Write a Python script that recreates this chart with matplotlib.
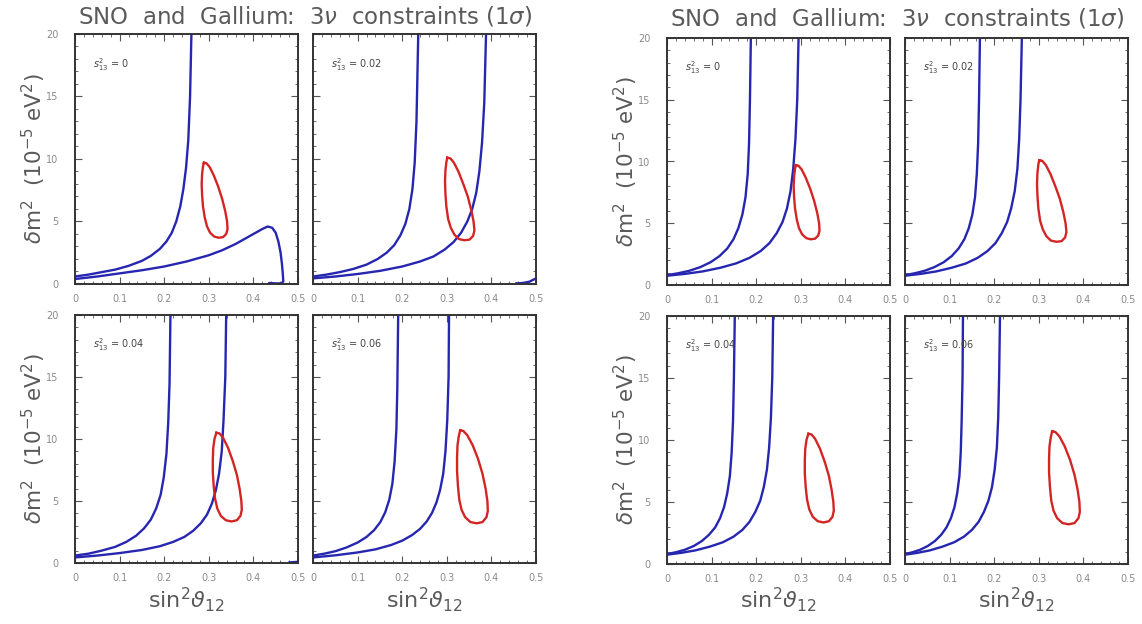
import matplotlib
matplotlib.use("Agg")
import matplotlib.pyplot as plt
from matplotlib.ticker import MultipleLocator, NullFormatter

# ---------------- data ----------------
s13_values = ["0", "0.02", "0.04", "0.06"]
x_ticks = [0, 0.1, 0.2, 0.3, 0.4, 0.5]
x_tick_labels = ["0", "0.1", "0.2", "0.3", "0.4", "0.5"]
y_ticks = [0, 5, 10, 15, 20]
y_tick_labels = ["0", "5", "10", "15", "20"]

# Left group (first figure)
L0_a_x = [0, 0.03, 0.06, 0.09, 0.12, 0.15, 0.17, 0.19, 0.205, 0.217, 0.227, 0.236, 0.243, 0.249, 0.254, 0.258, 0.261]
L0_a_y = [0.6, 0.75, 0.95, 1.15, 1.45, 1.85, 2.25, 2.8, 3.4, 4.1, 5.0, 6.2, 7.6, 9.3, 11.5, 15, 20]
L0_b_x = [0, 0.05, 0.1, 0.15, 0.2, 0.25, 0.3, 0.33, 0.36, 0.385, 0.405, 0.42, 0.432, 0.442, 0.45,
          0.456, 0.461, 0.464, 0.466, 0.467, 0.463, 0.45, 0.435]
L0_b_y = [0.4, 0.6, 0.85, 1.1, 1.4, 1.8, 2.3, 2.7, 3.2, 3.7, 4.1, 4.4, 4.6, 4.5, 4.1,
          3.4, 2.5, 1.6, 0.8, 0.2, 0.05, 0.05, 0.08]

L2_a_x = [0, 0.03, 0.06, 0.09, 0.12, 0.145, 0.165, 0.182, 0.196, 0.207, 0.216, 0.223, 0.228, 0.232, 0.236]
L2_a_y = [0.6, 0.75, 0.95, 1.2, 1.55, 2.0, 2.5, 3.1, 3.9, 4.8, 6.0, 7.6, 9.7, 13, 20]
L2_b_x = [0, 0.05, 0.1, 0.15, 0.2, 0.24, 0.27, 0.295, 0.315, 0.332, 0.346, 0.357, 0.366, 0.373,
          0.379, 0.384, 0.388]
L2_b_y = [0.45, 0.6, 0.8, 1.05, 1.4, 1.8, 2.2, 2.75, 3.35, 4.1, 5.0, 6.0, 7.3, 9.0, 11.3, 14.5, 20]
L2_c_x = [0.455, 0.47, 0.485, 0.5]
L2_c_y = [0.05, 0.08, 0.18, 0.45]

L4_a_x = [0, 0.03, 0.06, 0.09, 0.115, 0.137, 0.155, 0.17, 0.182, 0.192, 0.199, 0.205, 0.209, 0.212, 0.214]
L4_a_y = [0.6, 0.75, 1.0, 1.3, 1.7, 2.2, 2.8, 3.5, 4.4, 5.5, 6.9, 8.8, 11.3, 14.5, 20]
L4_b_x = [0, 0.05, 0.1, 0.15, 0.19, 0.22, 0.245, 0.265, 0.282, 0.296, 0.307, 0.316, 0.323, 0.329,
          0.333, 0.337, 0.339]
L4_b_y = [0.45, 0.6, 0.8, 1.05, 1.35, 1.7, 2.1, 2.6, 3.2, 3.9, 4.8, 5.9, 7.2, 9.0, 11.5, 15, 20]
L4_c_x = [0.48, 0.49, 0.5]
L4_c_y = [0.05, 0.07, 0.1]

L6_a_x = [0, 0.025, 0.05, 0.075, 0.1, 0.12, 0.137, 0.151, 0.162, 0.171, 0.178, 0.183, 0.187, 0.189, 0.191]
L6_a_y = [0.6, 0.75, 0.95, 1.25, 1.65, 2.1, 2.65, 3.3, 4.1, 5.1, 6.4, 8.2, 10.8, 14, 20]
L6_b_x = [0, 0.05, 0.1, 0.14, 0.175, 0.2, 0.222, 0.24, 0.255, 0.267, 0.277, 0.285, 0.292, 0.297,
          0.301, 0.304, 0.305]
L6_b_y = [0.45, 0.62, 0.85, 1.1, 1.45, 1.8, 2.25, 2.75, 3.35, 4.05, 4.9, 5.9, 7.2, 9.0, 11.5, 15, 20]

# Right group (second figure)
R_a_y = [0.8, 0.95, 1.15, 1.45, 1.85, 2.35, 2.95, 3.7, 4.6, 5.7, 7.1, 9.0, 11.5, 15, 20]
R_b_y = [0.75, 0.9, 1.1, 1.4, 1.75, 2.2, 2.75, 3.4, 4.2, 5.1, 6.2, 7.6, 9.4, 11.8, 15, 20]
R0_a_x = [0, 0.025, 0.05, 0.075, 0.098, 0.118, 0.135, 0.149, 0.16, 0.169, 0.176, 0.181, 0.184, 0.186, 0.188]
R0_b_x = [0, 0.04, 0.08, 0.12, 0.155, 0.185, 0.21, 0.23, 0.246, 0.259, 0.269, 0.277, 0.283, 0.288, 0.292, 0.295]
R2_a_x = [0, 0.022, 0.044, 0.066, 0.087, 0.105, 0.12, 0.133, 0.143, 0.151, 0.157, 0.161, 0.164, 0.166, 0.168]
R2_b_x = [0, 0.035, 0.07, 0.105, 0.137, 0.163, 0.185, 0.203, 0.217, 0.229, 0.238, 0.246, 0.252, 0.256, 0.259, 0.262]
R4_a_x = [0, 0.02, 0.04, 0.06, 0.078, 0.094, 0.108, 0.119, 0.128, 0.135, 0.141, 0.145, 0.148, 0.15, 0.152]
R4_b_x = [0, 0.032, 0.064, 0.096, 0.125, 0.149, 0.169, 0.185, 0.198, 0.209, 0.217, 0.224, 0.229, 0.233, 0.236, 0.238]
R6_a_x = [0, 0.017, 0.034, 0.051, 0.067, 0.081, 0.093, 0.103, 0.111, 0.117, 0.122, 0.125, 0.127, 0.129, 0.13]
R6_b_x = [0, 0.028, 0.056, 0.084, 0.11, 0.132, 0.15, 0.165, 0.177, 0.187, 0.195, 0.201, 0.206, 0.209, 0.211, 0.213]

# Red allowed regions (same in both groups)
red0_x = [0.289, 0.295, 0.302, 0.311, 0.321, 0.330, 0.337, 0.341, 0.342, 0.339, 0.332, 0.322, 0.312,
          0.303, 0.296, 0.291, 0.287, 0.285, 0.284, 0.285, 0.287, 0.289]
red0_y = [9.7, 9.65, 9.35, 8.7, 7.8, 6.8, 5.8, 5.0, 4.4, 4.0, 3.75, 3.7, 3.8,
          4.1, 4.6, 5.3, 6.2, 7.1, 8.0, 8.8, 9.4, 9.7]
red2_x = [0.301, 0.308, 0.316, 0.326, 0.337, 0.347, 0.355, 0.36, 0.362, 0.359, 0.351, 0.339, 0.327,
          0.317, 0.309, 0.303, 0.299, 0.297, 0.296, 0.297, 0.299, 0.301]
red2_y = [10.1, 10.05, 9.7, 9.0, 8.0, 7.0, 5.9, 5.0, 4.3, 3.85, 3.55, 3.5, 3.6,
          3.95, 4.5, 5.2, 6.2, 7.2, 8.2, 9.1, 9.75, 10.1]
red4_x = [0.317, 0.324, 0.332, 0.343, 0.354, 0.363, 0.369, 0.373, 0.374, 0.371, 0.363, 0.351, 0.338,
          0.327, 0.319, 0.314, 0.311, 0.309, 0.309, 0.31, 0.313, 0.317]
red4_y = [10.5, 10.45, 10.1, 9.3, 8.2, 7.1, 6.0, 5.0, 4.3, 3.8, 3.45, 3.35, 3.45,
          3.8, 4.4, 5.2, 6.2, 7.3, 8.4, 9.3, 10.05, 10.5]
red6_x = [0.33, 0.337, 0.346, 0.358, 0.37, 0.38, 0.387, 0.391, 0.392, 0.389, 0.38, 0.367, 0.353,
          0.341, 0.333, 0.328, 0.325, 0.323, 0.323, 0.324, 0.327, 0.33]
red6_y = [10.7, 10.65, 10.3, 9.5, 8.4, 7.2, 6.0, 5.0, 4.2, 3.7, 3.3, 3.2, 3.3,
          3.7, 4.3, 5.1, 6.2, 7.4, 8.5, 9.5, 10.25, 10.7]

left_blue = [
    [(L0_a_x, L0_a_y), (L0_b_x, L0_b_y)],
    [(L2_a_x, L2_a_y), (L2_b_x, L2_b_y), (L2_c_x, L2_c_y)],
    [(L4_a_x, L4_a_y), (L4_b_x, L4_b_y), (L4_c_x, L4_c_y)],
    [(L6_a_x, L6_a_y), (L6_b_x, L6_b_y)],
]
right_blue = [
    [(R0_a_x, R_a_y), (R0_b_x, R_b_y)],
    [(R2_a_x, R_a_y), (R2_b_x, R_b_y)],
    [(R4_a_x, R_a_y), (R4_b_x, R_b_y)],
    [(R6_a_x, R_a_y), (R6_b_x, R_b_y)],
]
reds = [(red0_x, red0_y), (red2_x, red2_y), (red4_x, red4_y), (red6_x, red6_y)]

# ---------------- style ----------------
W, H = 1142, 624
BLUE = "#2626b0"
RED = "#d42525"
TXT = "#5a5a5a"
TICKTXT = "#8a8a8a"
plt.rcParams["font.family"] = ["DejaVu Sans"]
plt.rcParams["mathtext.fontset"] = "dejavusans"

fig = plt.figure(figsize=(W / 100, H / 100), dpi=100)


def px_axes(x1, y1, x2, y2):
    return fig.add_axes([x1 / W, 1 - y2 / H, (x2 - x1) / W, (y2 - y1) / H])


left_boxes = [(75, 34, 298, 284), (313, 34, 536, 284), (75, 315, 298, 563), (313, 315, 536, 563)]
right_boxes = [(667, 38, 890, 285), (905, 38, 1128, 285), (667, 316, 890, 564), (905, 316, 1128, 564)]


def draw_panel(box, blues, red, s13, show_y):
    ax = px_axes(*box)
    ax.set_xlim(0, 0.5)
    ax.set_ylim(0, 20)
    for bx, by in blues:
        ax.plot(bx, by, color=BLUE, lw=1.7, solid_joinstyle="round", solid_capstyle="round")
    ax.plot(red[0], red[1], color=RED, lw=1.7, solid_joinstyle="round")
    ax.set_xticks(x_ticks)
    ax.set_xticklabels(x_tick_labels)
    ax.set_yticks(y_ticks)
    if show_y:
        ax.set_yticklabels(y_tick_labels)
    else:
        ax.yaxis.set_major_formatter(NullFormatter())
    ax.xaxis.set_minor_locator(MultipleLocator(0.02))
    ax.yaxis.set_minor_locator(MultipleLocator(1))
    ax.tick_params(which="both", direction="in", top=True, right=True,
                   color="#555555", labelsize=7, labelcolor=TICKTXT)
    ax.tick_params(axis="x", which="major", pad=7)
    ax.tick_params(axis="y", which="major", pad=12)
    ax.tick_params(which="major", length=5, width=0.8)
    ax.tick_params(which="minor", length=2.5, width=0.6)
    for s in ax.spines.values():
        s.set_linewidth(1.4)
        s.set_color("#333333")
    ax.text(0.04, 17.3, r"$s^2_{13}$ = " + s13, fontsize=7, color="#444444")
    return ax


for i, box in enumerate(left_boxes):
    draw_panel(box, left_blue[i], reds[i], s13_values[i], i % 2 == 0)
for i, box in enumerate(right_boxes):
    draw_panel(box, right_blue[i], reds[i], s13_values[i], i % 2 == 0)

title = r"SNO  and  Gallium:  3$\nu$  constraints (1$\sigma$)"
fig.text(305 / W, 1 - 16 / H, title, ha="center", va="center", fontsize=16.5, color=TXT)
fig.text(897 / W, 1 - 19 / H, title, ha="center", va="center", fontsize=16.5, color=TXT)

ylab = r"$\delta$m$^2$  (10$^{-5}$ eV$^2$)"
for xc, rows in [(34, [(34, 284), (315, 563)]), (626, [(38, 285), (316, 564)])]:
    for (y1, y2) in rows:
        fig.text(xc / W, 1 - (y1 + y2) / 2 / H, ylab, rotation=90, ha="center", va="center",
                 fontsize=15.5, color=TXT)

xlab = r"sin$^2\vartheta_{12}$"
for xc in [186, 424, 778, 1016]:
    fig.text(xc / W, 1 - 600 / H, xlab, ha="center", va="center", fontsize=16, color=TXT)

fig.savefig("out.png", dpi=100)
